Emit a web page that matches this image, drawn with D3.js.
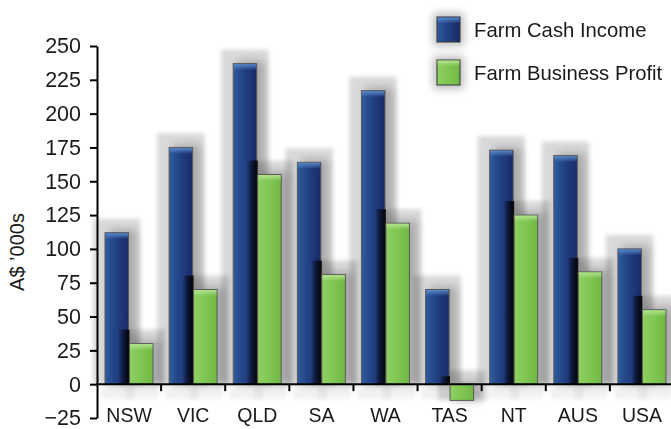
<!DOCTYPE html>
<html>
<head>
<meta charset="utf-8">
<script src="https://cdn.jsdelivr.net/npm/d3@7"></script>
<style>
  html, body { margin: 0; padding: 0; background: #fff; }
  svg { display: block; }
  text { font-family: "Liberation Sans", Arial, Helvetica, sans-serif; fill: #1a1a1a; }
</style>
</head>
<body>
<svg id="chart" width="671" height="429"></svg>
<script>
// Farm income by state, A$ '000s
const categories = ["NSW", "VIC", "QLD", "SA", "WA", "TAS", "NT", "AUS", "USA"];
const seriesNames = ["Farm Cash Income", "Farm Business Profit"];
const cashIncome = [112, 175, 237, 164, 217, 70, 173, 169, 100];
const businessProfit = [30, 70, 155, 81, 119, -12, 125, 83, 55];
const yTicks = [-25, 0, 25, 50, 75, 100, 125, 150, 175, 200, 225, 250];
const yTitle = "A$ \u2019000s";

const svg = d3.select("#chart");
const W = 671, H = 429;

const x = d3.scaleBand().domain(categories).range([97, 674]).padding(0);
const xs = d3.scaleBand().domain(seriesNames).range([8, 56]).paddingInner(0.04);
const y = d3.scaleLinear().domain([-25, 250]).range([418, 46]);
const y0 = y(0);

const defs = svg.append("defs");
function hGrad(id, stops) {
  const g = defs.append("linearGradient").attr("id", id).attr("x1", 0).attr("x2", 1).attr("y1", 0).attr("y2", 0);
  stops.forEach(s => g.append("stop").attr("offset", s[0]).attr("stop-color", s[1]));
}
hGrad("gBlue", [[0, "#2f5d9e"], [0.35, "#24468a"], [1, "#1a2a68"]]);
hGrad("gGreen", [[0, "#8fd062"], [0.5, "#80c653"], [1, "#6fb843"]]);
hGrad("gDark", [[0, "rgba(0,0,0,0)"], [0.4, "rgba(0,0,0,0.5)"], [1, "rgba(0,0,0,0.9)"]]);
const vtop = (id, c) => {
  const g = defs.append("linearGradient").attr("id", id).attr("x1", 0).attr("x2", 0).attr("y1", 0).attr("y2", 1);
  g.append("stop").attr("offset", 0).attr("stop-color", c).attr("stop-opacity", 0.95);
  g.append("stop").attr("offset", 1).attr("stop-color", c).attr("stop-opacity", 0);
};
vtop("hiBlue", "#5b8ccc");
vtop("hiGreen", "#b6e592");

defs.append("filter").attr("id", "soft").attr("x", "-50%").attr("y", "-50%").attr("width", "200%").attr("height", "200%")
  .append("feGaussianBlur").attr("stdDeviation", 2);
defs.append("filter").attr("id", "softer").attr("x", "-50%").attr("y", "-50%").attr("width", "200%").attr("height", "200%")
  .append("feGaussianBlur").attr("stdDeviation", 4);

const colors = { "Farm Cash Income": "url(#gBlue)", "Farm Business Profit": "url(#gGreen)" };
const highlights = { "Farm Cash Income": "url(#hiBlue)", "Farm Business Profit": "url(#hiGreen)" };

const bars = [];
categories.forEach((c, i) => {
  [cashIncome[i], businessProfit[i]].forEach((v, k) => {
    const s = seriesNames[k];
    const bx = x(c) + xs(s);
    const top = y(Math.max(0, v)), bot = y(Math.min(0, v));
    bars.push({ c, s, k, v, x: bx, w: xs.bandwidth(), top, bot });
  });
});

// soft halo shadows behind every bar
const shadowLayer = svg.append("g").style("mix-blend-mode", "multiply");
shadowLayer.selectAll("rect.halo").data(bars).join("rect")
  .attr("class", "halo")
  .attr("x", d => d.x - 12)
  .attr("y", d => (d.v >= 0 ? d.top - 14 : y0 - 14))
  .attr("width", d => d.w + 24)
  .attr("height", d => (d.v >= 0 ? y0 - d.top + 14 : d.bot - y0 + 14))
  .attr("fill", "#000").attr("opacity", 0.15).attr("filter", "url(#soft)");
// drop shadow to the right of each bar
shadowLayer.selectAll("rect.drop").data(bars).join("rect")
  .attr("class", "drop")
  .attr("x", d => d.x + 4)
  .attr("y", d => d.top - 3)
  .attr("width", d => d.w + 4)
  .attr("height", d => d.bot - d.top + 4)
  .attr("fill", "#000").attr("opacity", 0.22).attr("filter", "url(#softer)");
// faint reflections below the axis
shadowLayer.selectAll("rect.below").data(bars.filter(d => d.v > 0)).join("rect")
  .attr("class", "below")
  .attr("x", d => d.x - 4)
  .attr("y", y0 + 1)
  .attr("width", d => d.w + 10)
  .attr("height", 14)
  .attr("fill", "#000").attr("opacity", 0.05).attr("filter", "url(#soft)");

function drawBars(sel) {
  const g = svg.append("g");
  g.selectAll("rect.bar").data(sel).join("rect")
    .attr("class", "bar")
    .attr("x", d => d.x).attr("y", d => d.top)
    .attr("width", d => d.w).attr("height", d => d.bot - d.top)
    .attr("fill", d => colors[d.s])
    .attr("stroke", "#5a5a5a").attr("stroke-width", 1);
  g.selectAll("rect.hi").data(sel.filter(d => d.v > 0)).join("rect")
    .attr("class", "hi")
    .attr("x", d => d.x + 0.5).attr("y", d => d.top + 0.5)
    .attr("width", d => d.w - 1).attr("height", 6)
    .attr("fill", d => highlights[d.s]);
  return g;
}

const blue = bars.filter(d => d.k === 0);
const green = bars.filter(d => d.k === 1);
drawBars(blue);

// shadow cast by each green bar onto the blue bar beside it
const cast = svg.append("g");
green.forEach((g, i) => {
  const b = blue[i];
  const top = g.v >= 0 ? Math.max(b.top, g.top - 14) : y0 - 8;
  if (top >= y0) return;
  cast.append("rect")
    .attr("x", b.x + b.w - 10).attr("y", top)
    .attr("width", g.x - (b.x + b.w) + 10).attr("height", y0 - top)
    .attr("fill", "url(#gDark)");
});

drawBars(green);

// axes
const axisG = svg.append("g").attr("transform", "translate(97,0)");
axisG.call(d3.axisLeft(y).tickValues(yTicks).tickSize(7).tickSizeOuter(0).tickPadding(9));
axisG.select(".domain").attr("stroke", "#000").attr("stroke-width", 2);
axisG.selectAll(".tick line").attr("stroke", "#000").attr("stroke-width", 2);
axisG.selectAll(".tick text").attr("font-size", 21.5).attr("fill", "#1a1a1a")
  .style("font-family", "'Liberation Sans', Arial, sans-serif");

const xAxisG = svg.append("g").attr("transform", `translate(0,${y0})`);
xAxisG.call(d3.axisBottom(x).tickSize(0).tickPadding(24));
xAxisG.select(".domain").attr("d", `M96,0H${W}`).attr("stroke", "#000").attr("stroke-width", 2);
xAxisG.selectAll(".tick text").attr("font-size", 19.5).attr("fill", "#1a1a1a")
  .style("font-family", "'Liberation Sans', Arial, sans-serif");
xAxisG.selectAll("line.sep").data(categories.slice(1)).join("line")
  .attr("class", "sep")
  .attr("x1", d => x(d)).attr("x2", d => x(d))
  .attr("y1", 0).attr("y2", 7)
  .attr("stroke", "#000").attr("stroke-width", 2);

// y title
svg.append("text")
  .attr("transform", `translate(24,${(y(250) + y(-25)) / 2 + 20}) rotate(-90)`)
  .attr("text-anchor", "middle")
  .attr("font-size", 20)
  .text(yTitle);

// legend
const legend = svg.append("g");
const legendFill = ["url(#gBlue)", "url(#gGreen)"];
seriesNames.forEach((s, i) => {
  const ly = 17 + i * 43;
  legend.append("rect").attr("x", 433).attr("y", ly - 4).attr("width", 31).attr("height", 33)
    .attr("fill", "#000").attr("opacity", 0.25).attr("filter", "url(#softer)");
  legend.append("rect").attr("x", 437).attr("y", ly).attr("width", 23).attr("height", 25)
    .attr("fill", legendFill[i]).attr("stroke", "#333").attr("stroke-width", 1);
  legend.append("rect").attr("x", 437.5).attr("y", ly + 0.5).attr("width", 22).attr("height", 6)
    .attr("fill", i === 0 ? "url(#hiBlue)" : "url(#hiGreen)");
  legend.append("text").attr("x", 474).attr("y", ly + 20).attr("font-size", 20.3).text(s);
});
</script>
</body>
</html>
